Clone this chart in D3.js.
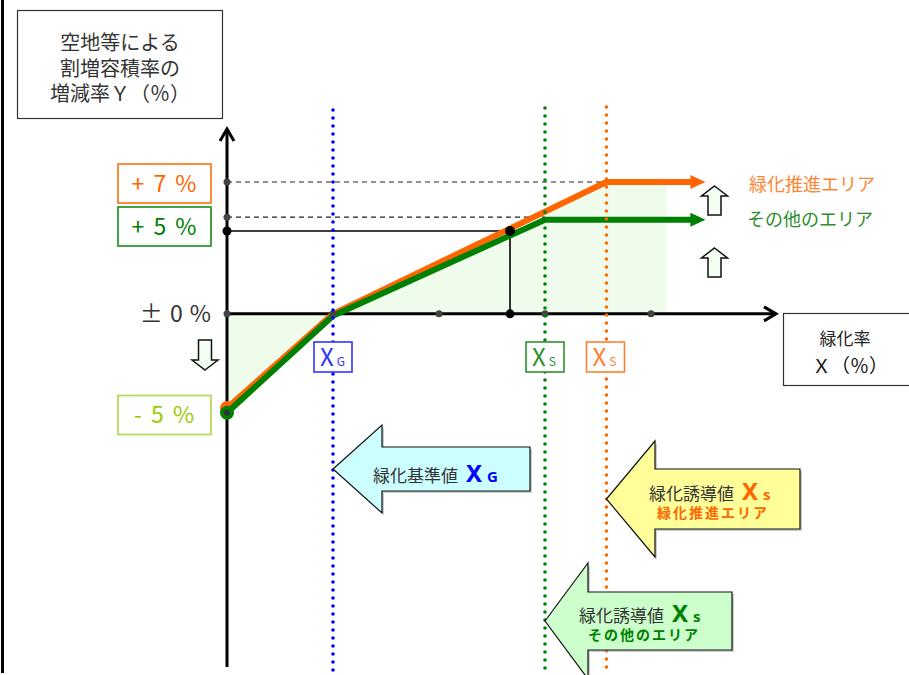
<!DOCTYPE html>
<html>
<head>
<meta charset="utf-8">
<script src="https://cdn.jsdelivr.net/npm/d3@7"></script>
<style>
  body { margin: 0; background: #fff; }
  svg { display: block; font-family: "Noto Sans CJK JP", "Noto Sans", sans-serif; }
</style>
</head>
<body>
<div id="chart"></div>
<script>
// data
const xTicks = [1, 2, 3, 4];
const xG = 1;            // 緑化基準値
const xSOther = 3;       // 緑化誘導値 その他のエリア
const xSPromo = 3.58;    // 緑化誘導値 緑化推進エリア
const xEnd = 4.4;
const promoX = [0, xG, xSPromo, xEnd];
const promoY = [-5, 0, 7, 7];
const otherX = [0, xG, xSOther, xEnd];
const otherY = [-5.25, -0.1, 5, 5];
const sampleX = 2.67, sampleY = 4.4;
const fillX = [0, 0, xG, xSPromo, 4.15, 4.15];
const fillY = [0, -5, 0, 7, 7, 0];
const yLevels = [7, 5, 0, -5];
const yLabels = ["+ 7 %", "+ 5 %", "± 0 %", "- 5 %"];
const yTitle = ["空地等による", "割増容積率の", "増減率Ｙ（％）"];

const W = 909, H = 675;
const svg = d3.select("#chart").append("svg")
  .attr("width", W).attr("height", H);

const x = d3.scaleLinear().domain([0, 4]).range([227, 651]);
const y = d3.scaleLinear().domain([-5, 7]).range([408, 182]);
const x0 = x(0), y0 = y(0);

// outer frame line on the left
svg.append("line").attr("x1", 2.5).attr("x2", 2.5).attr("y1", 0).attr("y2", 673)
  .attr("stroke", "#000").attr("stroke-width", 3);

// light green area
const fillPts = fillX.map((d, i) => [x(d), y(fillY[i])]);
svg.append("path").attr("d", d3.line()(fillPts) + "Z")
  .attr("fill", "#effcec");

// axes
svg.append("line").attr("x1", x0).attr("x2", x0).attr("y1", 667).attr("y2", 129)
  .attr("stroke", "#000").attr("stroke-width", 3);
svg.append("path").attr("d", `M${x0 - 7},${141} L${x0},${129} L${x0 + 7},${141}`)
  .attr("fill", "none").attr("stroke", "#000").attr("stroke-width", 3);
svg.append("line").attr("x1", x0).attr("x2", 776).attr("y1", y0).attr("y2", y0)
  .attr("stroke", "#000").attr("stroke-width", 3);
svg.append("path").attr("d", `M${764},${y0 - 7} L${776},${y0} L${764},${y0 + 7}`)
  .attr("fill", "none").attr("stroke", "#000").attr("stroke-width", 3);

// dashed guide lines
svg.append("line").attr("x1", x0).attr("x2", x(4.15)).attr("y1", y(7)).attr("y2", y(7))
  .attr("stroke", "#222").attr("stroke-width", 1.2).attr("stroke-dasharray", "5,4");
svg.append("line").attr("x1", x0).attr("x2", x(xSOther)).attr("y1", y(5) - 2.5).attr("y2", y(5) - 2.5)
  .attr("stroke", "#222").attr("stroke-width", 1.2).attr("stroke-dasharray", "5,4");

// sample point guide
svg.append("path")
  .attr("d", `M${x0},${y(sampleY)} L${x(sampleX)},${y(sampleY)} L${x(sampleX)},${y0}`)
  .attr("fill", "none").attr("stroke", "#000").attr("stroke-width", 1.6);

// curves
const line = d3.line();
function curve(xs, ys, color) {
  const pts = xs.map((d, i) => [x(d), y(ys[i])]);
  svg.append("path").attr("d", line(pts))
    .attr("fill", "none").attr("stroke", color).attr("stroke-width", 6)
    .attr("stroke-linejoin", "round");
  const last = pts[pts.length - 1];
  svg.append("path")
    .attr("d", `M${last[0] - 3},${last[1] - 7} L${last[0] + 12},${last[1]} L${last[0] - 3},${last[1] + 7}Z`)
    .attr("fill", color);
  svg.append("circle").attr("cx", pts[0][0]).attr("cy", pts[0][1]).attr("r", 7).attr("fill", color);
}
curve(promoX, promoY, "#ff6600");
curve(otherX, otherY, "#008000");
svg.append("circle").attr("cx", x0).attr("cy", y(otherY[0])).attr("r", 3).attr("fill", "#333");

// dots on axes
svg.selectAll(".xdot").data(xTicks).enter().append("circle")
  .attr("cx", d => x(d)).attr("cy", y0).attr("r", 3.5).attr("fill", "#444");
svg.selectAll(".ydot").data([7, 5, 0]).enter().append("circle")
  .attr("cx", x0).attr("cy", d => y(d) - (d === 5 ? 2.5 : 0)).attr("r", 3.5).attr("fill", "#444");
svg.append("circle").attr("cx", x(sampleX)).attr("cy", y0).attr("r", 4.5).attr("fill", "#000");
svg.append("circle").attr("cx", x0).attr("cy", y(sampleY)).attr("r", 4.5).attr("fill", "#000");
svg.append("circle").attr("cx", x(sampleX)).attr("cy", y(sampleY)).attr("r", 5).attr("fill", "#000");

// dotted verticals
const vlines = [[xG, "#0000ff", 110], [xSOther, "#008000", 108], [xSPromo, "#ff6600", 107]];
vlines.forEach(([v, c, top]) => {
  svg.append("line").attr("x1", x(v)).attr("x2", x(v)).attr("y1", top).attr("y2", 675)
    .attr("stroke", c).attr("stroke-width", 3.6).attr("stroke-linecap", "round")
    .attr("stroke-dasharray", "0,8");
});

// X boxes under the axis
const xBoxes = [[xG, "#3333ff", "G"], [xSOther, "#2f8f2f", "S"], [xSPromo, "#ff8030", "S"]];
xBoxes.forEach(([v, c, sub]) => {
  const cx = x(v) - (v === xSPromo ? 1 : 0);
  svg.append("rect").attr("x", cx - 19).attr("y", 342).attr("width", 38).attr("height", 30)
    .attr("fill", "#fff").attr("stroke", c).attr("stroke-width", 1.6);
  const t = svg.append("text").attr("x", cx - 13).attr("y", 366).attr("fill", c);
  t.append("tspan").attr("font-size", 24).text("X");
  t.append("tspan").attr("font-size", 12).attr("dx", 3).text(sub);
});

// y level labels
const levelStyle = [
  { stroke: "#ff7f27", fill: "#ff6600" },
  { stroke: "#2f9a2f", fill: "#008000" },
  null,
  { stroke: "#b5d95a", fill: "#99cc00" }
];
yLevels.forEach((v, i) => {
  const st = levelStyle[i];
  const cy = i === 0 ? 183.5 : i === 1 ? 226.5 : i === 3 ? 415 : y0;
  if (st) {
    svg.append("rect").attr("x", 118).attr("y", cy - 19.5).attr("width", 93).attr("height", 39)
      .attr("fill", "#fff").attr("stroke", st.stroke).attr("stroke-width", 1.8);
    svg.append("text").attr("x", 165).attr("y", cy + 8).attr("text-anchor", "middle")
      .attr("font-size", 23).attr("letter-spacing", 2).attr("fill", st.fill)
      .attr("xml:space", "preserve").text(yLabels[i]);
  } else {
    svg.append("text").attr("x", 212).attr("y", cy + 8).attr("text-anchor", "end")
      .attr("font-size", 23).attr("letter-spacing", 1).attr("fill", "#333")
      .attr("xml:space", "preserve").text(yLabels[i]);
  }
});

// outline block arrows
function blockArrow(cx, top, bottom, dir) {
  const hw = 13, sw = 6.5, hl = 10;
  let d;
  if (dir === "up") {
    d = `M${cx},${top} L${cx + hw},${top + hl} L${cx + sw},${top + hl} L${cx + sw},${bottom} L${cx - sw},${bottom} L${cx - sw},${top + hl} L${cx - hw},${top + hl}Z`;
  } else {
    d = `M${cx},${bottom} L${cx + hw},${bottom - hl} L${cx + sw},${bottom - hl} L${cx + sw},${top} L${cx - sw},${top} L${cx - sw},${bottom - hl} L${cx - hw},${bottom - hl}Z`;
  }
  svg.append("path").attr("d", d).attr("fill", "#f2fff2").attr("stroke", "#111").attr("stroke-width", 1.5);
}
blockArrow(205, 340, 370, "down");
blockArrow(714.5, 186, 215, "up");
blockArrow(714.5, 248, 277, "up");

// legend labels on the right
svg.append("text").attr("x", 749).attr("y", 191).attr("font-size", 18).attr("fill", "#ff8533").text("緑化推進エリア");
svg.append("text").attr("x", 747).attr("y", 226).attr("font-size", 18).attr("fill", "#2e8b2e").text("その他のエリア");

// title box
svg.append("rect").attr("x", 17.5).attr("y", 10.5).attr("width", 205).attr("height", 108)
  .attr("fill", "#fff").attr("stroke", "#333").attr("stroke-width", 1.2);
svg.append("text").attr("text-anchor", "middle").attr("font-size", 20).attr("fill", "#333")
  .selectAll("tspan").data(yTitle).enter().append("tspan")
  .attr("x", 120).attr("y", (d, i) => 50 + i * 25.5).text(d => d);

// x axis label box
svg.append("rect").attr("x", 783.5).attr("y", 313.5).attr("width", 140).attr("height", 72)
  .attr("fill", "#fff").attr("stroke", "#333").attr("stroke-width", 1.2);
svg.append("text").attr("x", 845).attr("y", 345).attr("text-anchor", "middle")
  .attr("font-size", 17).attr("fill", "#222").text("緑化率");
svg.append("text").attr("x", 850).attr("y", 373).attr("text-anchor", "middle")
  .attr("font-size", 19).attr("fill", "#111").text("Ｘ（％）");

// big callout arrows
function bigArrow(tipX, tipY, backX, headHalf, bodyHalf, rightX, fill) {
  const d = `M${tipX},${tipY} L${backX},${tipY - headHalf} L${backX},${tipY - bodyHalf} ` +
    `L${rightX},${tipY - bodyHalf} L${rightX},${tipY + bodyHalf} L${backX},${tipY + bodyHalf} ` +
    `L${backX},${tipY + headHalf}Z`;
  svg.append("path").attr("d", d).attr("fill", "#999").attr("opacity", 0.5)
    .attr("transform", "translate(2,2)");
  svg.append("path").attr("d", d).attr("fill", fill).attr("stroke", "#111").attr("stroke-width", 1.2);
}
bigArrow(x(xG), 469, 382, 44, 22, 530, "#ccffff");
bigArrow(x(xSPromo), 499, 655, 58, 30, 800, "#ffff99");
bigArrow(x(xSOther), 621, 588, 58, 29, 732, "#ccffcc");

function callout(x1, base, main, mark, sub, color, line2, x2) {
  const t = svg.append("text").attr("x", x1).attr("y", base).attr("fill", "#333");
  t.append("tspan").attr("font-size", 17).text(main);
  t.append("tspan").attr("font-size", 24).attr("font-weight", "bold").attr("fill", color)
    .attr("font-family", "Noto Sans, sans-serif").attr("dx", 8).text(mark);
  t.append("tspan").attr("font-size", 15).attr("font-weight", "bold").attr("fill", color)
    .attr("dx", 5).attr("font-family", "Noto Sans, sans-serif").text(sub);
  if (line2) {
    svg.append("text").attr("x", x2).attr("y", base + 18).attr("font-size", 14)
      .attr("font-weight", "bold").attr("letter-spacing", 2).attr("fill", color).text(line2);
  }
}
callout(373, 482, "緑化基準値", "X", "G", "#0000ff");
callout(649, 500, "緑化誘導値", "X", "s", "#ff6600", "緑化推進エリア", 657);
callout(579, 622, "緑化誘導値", "X", "s", "#008000", "その他のエリア", 588);
</script>
</body>
</html>
